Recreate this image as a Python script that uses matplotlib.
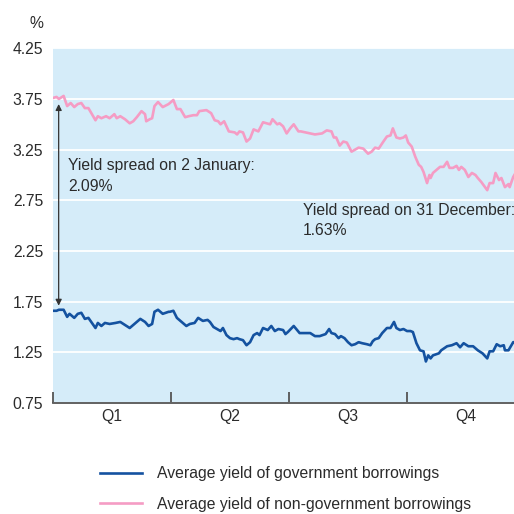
import matplotlib
matplotlib.use("Agg")
import matplotlib.pyplot as plt

plt.rcParams['font.family'] = ['Liberation Sans', 'DejaVu Sans']

# x positions in quarter units (0 = 1 January, 4 = end of year)
pink_x = [0.00, 0.03, 0.05, 0.09, 0.12, 0.15, 0.18, 0.21, 0.24, 0.27,
          0.30, 0.33, 0.36, 0.38, 0.41, 0.45, 0.48, 0.52, 0.54, 0.57,
          0.61, 0.65, 0.68, 0.71, 0.75, 0.78, 0.79, 0.82, 0.84, 0.86,
          0.89, 0.93, 0.98, 1.02, 1.05, 1.08, 1.12, 1.15, 1.19, 1.22,
          1.24, 1.30, 1.34, 1.37, 1.40, 1.42, 1.45, 1.49, 1.54, 1.56,
          1.58, 1.61, 1.64, 1.67, 1.70, 1.74, 1.78, 1.81, 1.84, 1.86,
          1.90, 1.92, 1.95, 1.98, 2.01, 2.04, 2.08, 2.10, 2.14, 2.18,
          2.22, 2.28, 2.32, 2.36, 2.38, 2.40, 2.43, 2.46, 2.49, 2.53,
          2.56, 2.59, 2.63, 2.67, 2.70, 2.73, 2.76, 2.80, 2.83, 2.86,
          2.88, 2.91, 2.94, 2.97, 2.99, 3.01, 3.04, 3.07, 3.10, 3.12,
          3.14, 3.17, 3.19, 3.20, 3.22, 3.25, 3.28, 3.31, 3.34, 3.36,
          3.39, 3.42, 3.44, 3.46, 3.49, 3.52, 3.55, 3.58, 3.60, 3.63,
          3.68, 3.70, 3.73, 3.75, 3.78, 3.80, 3.83, 3.86, 3.87, 3.90,
          3.91]
pink_y = [3.76, 3.77, 3.75, 3.78, 3.68, 3.71, 3.67, 3.70, 3.71, 3.66,
          3.66, 3.60, 3.54, 3.58, 3.56, 3.58, 3.56, 3.60, 3.56, 3.58,
          3.55, 3.51, 3.53, 3.57, 3.63, 3.60, 3.53, 3.55, 3.56, 3.68,
          3.72, 3.67, 3.70, 3.74, 3.65, 3.65, 3.57, 3.58, 3.59, 3.59,
          3.63, 3.64, 3.61, 3.54, 3.53, 3.50, 3.53, 3.43, 3.42, 3.40,
          3.43, 3.42, 3.33, 3.36, 3.45, 3.43, 3.52, 3.51, 3.50, 3.55,
          3.50, 3.51, 3.48, 3.41, 3.46, 3.50, 3.43, 3.43, 3.42, 3.41,
          3.40, 3.41, 3.44, 3.43, 3.37, 3.37, 3.29, 3.33, 3.32, 3.23,
          3.25, 3.27, 3.26, 3.21, 3.23, 3.27, 3.26, 3.33, 3.38, 3.39,
          3.46, 3.37, 3.36, 3.37, 3.39, 3.32, 3.28, 3.18, 3.10, 3.08,
          3.03, 2.92, 3.00, 2.97, 3.02, 3.05, 3.08, 3.08, 3.13, 3.07,
          3.07, 3.09, 3.05, 3.08, 3.05, 2.98, 3.02, 3.00, 2.97, 2.93,
          2.85, 2.92, 2.92, 3.02, 2.95, 2.97, 2.88, 2.91, 2.88, 2.98,
          3.00]

blue_x = [0.00, 0.03, 0.05, 0.09, 0.12, 0.14, 0.18, 0.21, 0.24, 0.27,
          0.30, 0.33, 0.36, 0.38, 0.41, 0.44, 0.48, 0.53, 0.57, 0.61,
          0.65, 0.69, 0.74, 0.78, 0.81, 0.84, 0.86, 0.89, 0.93, 0.98,
          0.99, 1.02, 1.05, 1.09, 1.13, 1.16, 1.20, 1.23, 1.27, 1.31,
          1.33, 1.36, 1.39, 1.42, 1.44, 1.47, 1.50, 1.53, 1.56, 1.58,
          1.61, 1.64, 1.67, 1.70, 1.73, 1.75, 1.78, 1.82, 1.85, 1.88,
          1.91, 1.95,
          1.97, 1.99, 2.04, 2.09, 2.14, 2.18, 2.22, 2.26, 2.31, 2.34,
          2.36, 2.39, 2.42, 2.44, 2.47, 2.50, 2.53, 2.56, 2.59, 2.62,
          2.66, 2.69, 2.71, 2.73, 2.76, 2.79, 2.83, 2.86, 2.89, 2.91,
          2.94, 2.97, 3.00, 3.03,
          3.05, 3.08, 3.11, 3.14, 3.16, 3.18, 3.20, 3.22, 3.27, 3.29,
          3.34, 3.38, 3.42, 3.45, 3.48, 3.52, 3.56, 3.60, 3.64, 3.68,
          3.70, 3.73, 3.76, 3.79, 3.82, 3.83, 3.86, 3.88, 3.90, 3.91]
blue_y = [1.66, 1.66, 1.67, 1.67, 1.60, 1.63, 1.59, 1.63, 1.64, 1.58,
          1.59, 1.54, 1.49, 1.54, 1.51, 1.54, 1.53, 1.54, 1.55, 1.52,
          1.49, 1.53, 1.58, 1.55, 1.51, 1.53, 1.65, 1.67, 1.63, 1.65,
          1.65, 1.66, 1.59, 1.55, 1.51, 1.53, 1.54, 1.59, 1.56, 1.57,
          1.55, 1.50, 1.48, 1.46, 1.49, 1.42, 1.39, 1.38, 1.39, 1.38,
          1.37, 1.32, 1.35, 1.42, 1.44, 1.42, 1.49, 1.47, 1.51, 1.46,
          1.48, 1.47,
          1.43, 1.45, 1.51, 1.44, 1.44, 1.44, 1.41, 1.41, 1.43, 1.48,
          1.44, 1.43, 1.39, 1.41, 1.39, 1.35, 1.32, 1.33, 1.35, 1.34,
          1.33, 1.32, 1.36, 1.38, 1.39, 1.44, 1.49, 1.49, 1.55, 1.49,
          1.47, 1.48, 1.46, 1.46,
          1.45, 1.34, 1.27, 1.26, 1.16, 1.22, 1.19, 1.22, 1.24, 1.27,
          1.31, 1.32, 1.34, 1.30, 1.34, 1.31, 1.31, 1.27, 1.24, 1.19,
          1.26, 1.26, 1.33, 1.31, 1.32, 1.27, 1.27, 1.31, 1.35, 1.35]

y_ticks = [0.75, 1.25, 1.75, 2.25, 2.75, 3.25, 3.75, 4.25]
y_tick_labels = ['0.75', '1.25', '1.75', '2.25', '2.75', '3.25', '3.75', '4.25']
quarter_labels = ['Q1', 'Q2', 'Q3', 'Q4']
series_labels = ['Average yield of government borrowings',
                 'Average yield of non-government borrowings']
spread_start = '2.09%'
spread_end = '1.63%'

BLUE = '#1452a0'
PINK = '#f59cc4'
BG = '#d5ecf9'
TXT = '#2b2b2b'
AXC = '#555555'
FS = 11.3

fig = plt.figure(figsize=(5.14, 5.14), dpi=100)
ax = fig.add_axes([53/514, 111/514, 472/514, 354.7/514])
ax.set_facecolor(BG)

l_blue, = ax.plot(blue_x, blue_y, color=BLUE, lw=1.9, label=series_labels[0], zorder=3)
l_pink, = ax.plot(pink_x, pink_y, color=PINK, lw=1.9, label=series_labels[1], zorder=3)

ax.set_xlim(0, 4)
ax.set_ylim(0.75, 4.25)
ax.set_yticks(y_ticks)
ax.set_yticklabels(y_tick_labels)
ax.yaxis.grid(True, color='white', lw=1.3)
ax.set_axisbelow(True)
ax.tick_params(axis='y', length=0, pad=7, labelsize=FS, labelcolor=TXT)

ax.set_xticks([0, 1, 2, 3, 4])
ax.set_xticklabels([])
ax.set_xticks([0.5, 1.5, 2.5, 3.5], minor=True)
ax.set_xticklabels(quarter_labels, minor=True)
ax.tick_params(axis='x', which='major', direction='in', length=8, width=1.3, color=AXC)
ax.tick_params(axis='x', which='minor', length=0, pad=4, labelsize=FS, labelcolor=TXT)

for s in ['top', 'right', 'left']:
    ax.spines[s].set_visible(False)
ax.spines['bottom'].set_color(AXC)
ax.spines['bottom'].set_linewidth(1.3)

# % unit label
fig.text(43/514, 1 - 23/514, '%', ha='right', va='center', fontsize=FS, color=TXT)

# spread arrow at start
ax.annotate('', xy=(0.048, pink_y[0] - 0.06), xytext=(0.048, blue_y[0] + 0.05),
            arrowprops=dict(arrowstyle='<|-|>', color='#333333', lw=0.9,
                            mutation_scale=9, shrinkA=0, shrinkB=0), zorder=4)

ax.text(0.13, 2.99, 'Yield spread on 2 January:\n' + spread_start, ha='left', va='center',
        fontsize=FS, color=TXT, linespacing=1.45)
ax.text(2.116, 2.55, 'Yield spread on 31 December:\n' + spread_end, ha='left', va='center',
        fontsize=FS, color=TXT, linespacing=1.45, clip_on=False)

fig.legend(handles=[l_blue, l_pink], loc='upper left',
           bbox_to_anchor=(86/514, 1 - 452/514), frameon=False,
           fontsize=FS, handlelength=2.65, handletextpad=1.0, labelspacing=1.0,
           labelcolor=TXT)

fig.savefig('out.png', dpi=100)
